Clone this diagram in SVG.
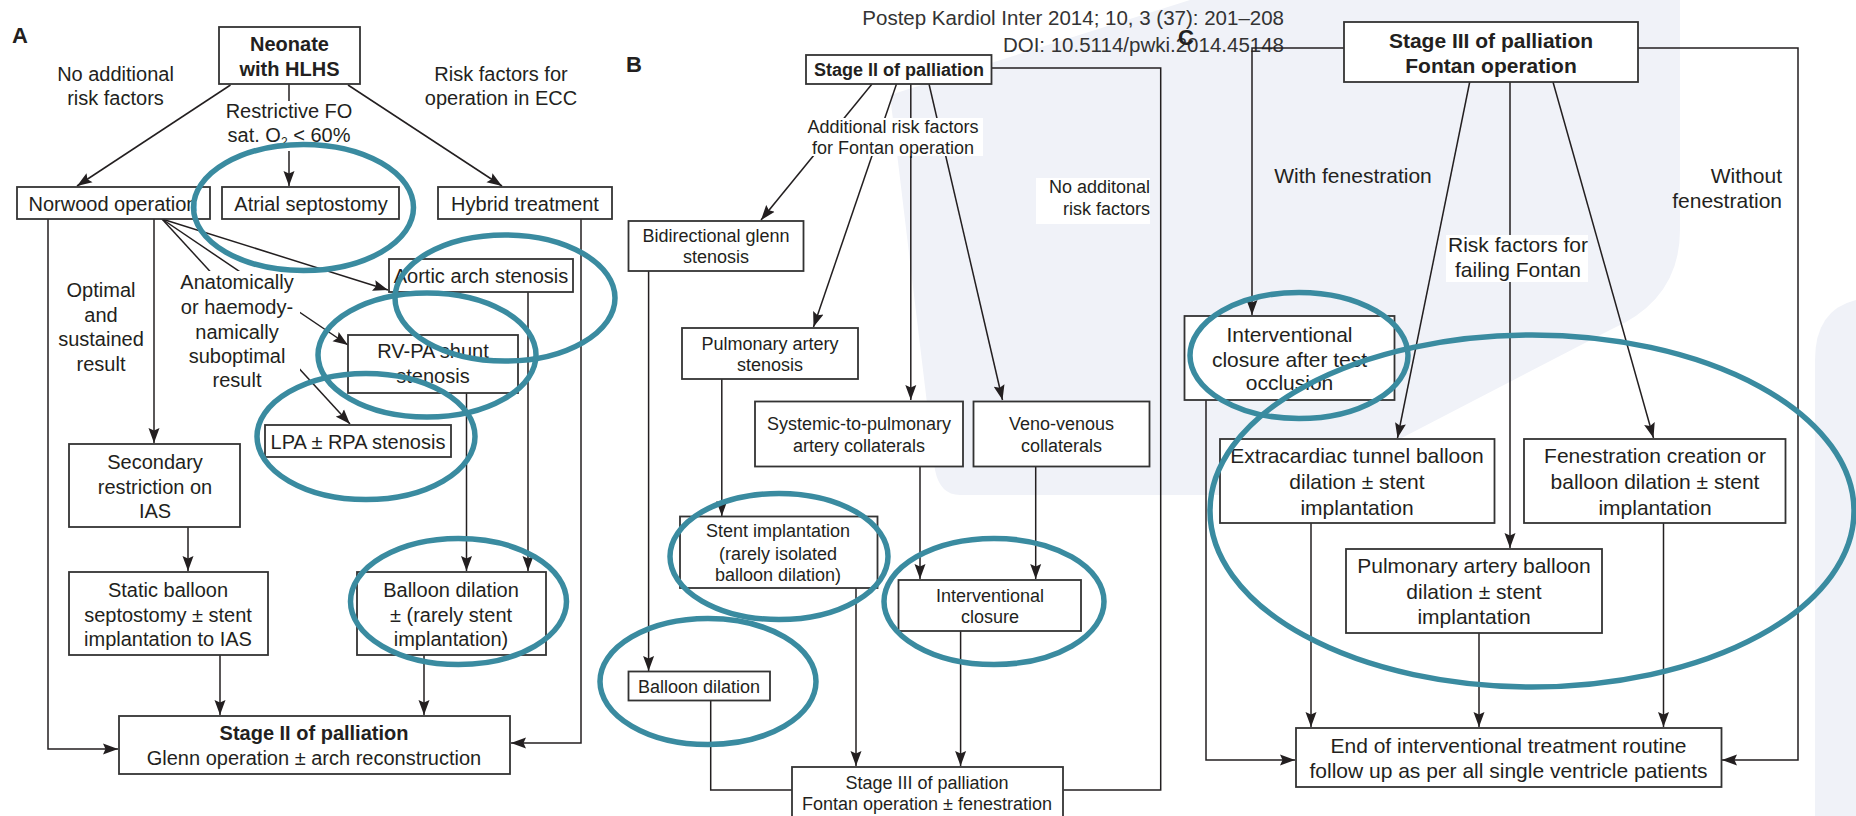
<svg xmlns="http://www.w3.org/2000/svg" width="1856" height="816" viewBox="0 0 1856 816">
<style>
text{font-family:"Liberation Sans",Arial,sans-serif;fill:#231f20;}
.a{font-size:20px;text-anchor:middle;}
.b{font-size:18px;text-anchor:middle;}
.c{font-size:21px;text-anchor:middle;}
.bold{font-weight:bold;}
.r{text-anchor:end;}
.box{fill:#fff;stroke:#333;stroke-width:1.8;}
.bg{fill:#fff;stroke:none;}
.ln{fill:none;stroke:#231f20;stroke-width:1.5;}
.ar{marker-end:url(#ah);}
.el{fill:none;stroke:#3a8ba0;stroke-width:5.5;}
.lbl{font-size:22px;font-weight:bold;}
.wm{fill:#f0f2f8;stroke:none;}
</style>
<defs>
<marker id="ah" markerWidth="16" markerHeight="12" refX="15" refY="6" orient="auto" markerUnits="userSpaceOnUse">
<path d="M0,0.5 L15,6 L0,11.5 L2.5,6 z" fill="#231f20"/>
</marker>
</defs>
<rect width="1856" height="816" fill="#fff"/>

<!-- faint watermark -->
<g id="watermark">
<path class="wm" d="M890,95 L1190,0 L1680,0 L1680,230 Q1680,300 1610,330 L1340,470 Q1300,495 1250,495 L960,495 Q940,495 935,470 Z"/>
<path class="wm" d="M1856,300 L1856,816 L1815,816 L1815,360 Q1815,310 1856,300 Z"/>
</g>

<!-- header -->
<g id="header">
<text x="1284" y="25" class="r" style="font-size:20.5px;fill:#333">Postep Kardiol Inter 2014; 10, 3 (37): 201–208</text>
<text x="1284" y="52" class="r" style="font-size:20.5px;fill:#333">DOI: 10.5114/pwki.2014.45148</text>
</g>
<text x="12" y="43" class="lbl">A</text>
<text x="626" y="72" class="lbl">B</text>
<text x="1178" y="45" class="lbl">C</text>

<!-- connectors -->
<g id="connectors">
<!-- A -->
<line class="ln ar" x1="230.5" y1="85" x2="77" y2="186"/>
<line class="ln ar" x1="289" y1="84" x2="289" y2="186"/>
<line class="ln ar" x1="348" y1="85" x2="502" y2="186"/>
<polyline class="ln ar" points="48,219 48,749 118,749"/>
<line class="ln ar" x1="154" y1="219" x2="154" y2="443"/>
<line class="ln ar" x1="162" y1="219" x2="388" y2="290"/>
<line class="ln ar" x1="162" y1="219" x2="348" y2="345"/>
<line class="ln ar" x1="162" y1="219" x2="350" y2="424"/>
<line class="ln ar" x1="528" y1="292" x2="528" y2="571"/>
<line class="ln ar" x1="466.5" y1="393" x2="466.5" y2="571"/>
<polyline class="ln ar" points="581,219 581,743 511,743"/>
<line class="ln ar" x1="188" y1="527" x2="188" y2="571"/>
<line class="ln ar" x1="220" y1="655" x2="220" y2="715"/>
<line class="ln ar" x1="424" y1="655" x2="424" y2="715"/>
<!-- B -->
<line class="ln ar" x1="872" y1="84" x2="761" y2="220"/>
<line class="ln ar" x1="896.5" y1="84" x2="813.5" y2="327"/>
<line class="ln ar" x1="910.8" y1="84" x2="910.8" y2="400"/>
<line class="ln ar" x1="929" y1="84" x2="1002.5" y2="400"/>
<polyline class="ln" points="991.5,68 1160.7,68 1160.7,790 1063.5,790"/>
<line class="ln ar" x1="648.6" y1="271" x2="648.6" y2="671"/>
<line class="ln ar" x1="721.8" y1="379" x2="721.8" y2="516"/>
<line class="ln ar" x1="920" y1="466.5" x2="920" y2="579"/>
<line class="ln ar" x1="1035.7" y1="466.5" x2="1035.7" y2="579"/>
<line class="ln ar" x1="856" y1="588" x2="856" y2="766"/>
<line class="ln ar" x1="960.6" y1="631" x2="960.6" y2="766"/>
<polyline class="ln" points="710.7,700.5 710.7,790 792,790"/>
<!-- C -->
<polyline class="ln ar" points="1344,48 1252,48 1252,315"/>
<polyline class="ln ar" points="1638,48 1798,48 1798,760 1722,760"/>
<line class="ln ar" x1="1469.7" y1="82" x2="1397.5" y2="438"/>
<line class="ln ar" x1="1510" y1="82" x2="1510" y2="548"/>
<line class="ln ar" x1="1553" y1="82" x2="1653.5" y2="438"/>
<polyline class="ln ar" points="1206,400 1206,760 1295,760"/>
<line class="ln ar" x1="1311" y1="523" x2="1311" y2="727"/>
<line class="ln ar" x1="1479" y1="633" x2="1479" y2="727"/>
<line class="ln ar" x1="1663.5" y1="523" x2="1663.5" y2="727"/>
</g>

<!-- edge labels -->
<g id="labels">
<text x="115.5" y="81" class="a">No additional</text>
<text x="115.5" y="105" class="a">risk factors</text>
<text x="501" y="81" class="a">Risk factors for</text>
<text x="501" y="105" class="a">operation in ECC</text>
<rect class="bg" x="225" y="101" width="127" height="50"/>
<text x="289" y="118" class="a">Restrictive FO</text>
<text x="289" y="142" class="a">sat. O<tspan style="font-size:12px" dy="4">2</tspan><tspan dy="-4"> &lt; 60%</tspan></text>
<text x="101" y="297" class="a">Optimal</text>
<text x="101" y="322" class="a">and</text>
<text x="101" y="346" class="a">sustained</text>
<text x="101" y="371" class="a">result</text>
<rect class="bg" x="176" y="271" width="124" height="122"/>
<text x="237" y="289" class="a">Anatomically</text>
<text x="237" y="314" class="a">or haemody-</text>
<text x="237" y="339" class="a">namically</text>
<text x="237" y="363" class="a">suboptimal</text>
<text x="237" y="387" class="a">result</text>

<rect class="bg" x="805" y="118" width="178" height="38"/>
<text x="893" y="133" class="b">Additional risk factors</text>
<text x="893" y="154" class="b">for Fontan operation</text>
<rect class="bg" x="1036" y="178" width="114" height="46"/>
<text x="1150" y="193" class="b r">No additonal</text>
<text x="1150" y="215" class="b r">risk factors</text>

<text x="1353" y="183" class="c">With fenestration</text>
<text x="1782" y="183" class="c r">Without</text>
<text x="1782" y="208" class="c r">fenestration</text>
<rect class="bg" x="1446" y="235" width="142" height="47"/>
<text x="1518" y="252" class="c">Risk factors for</text>
<text x="1518" y="277" class="c">failing Fontan</text>
</g>

<!-- Panel A nodes -->
<g id="neonate"><rect class="box" x="219" y="27" width="141" height="57"/><text x="289.5" y="51" class="a bold">Neonate</text><text x="289.5" y="76" class="a bold">with HLHS</text></g>
<g id="norwood"><rect class="box" x="17" y="187" width="193" height="32"/><text x="113" y="211" class="a">Norwood operation</text></g>
<g id="atrial"><rect class="box" x="222" y="187" width="177" height="32"/><text x="311" y="211" class="a">Atrial septostomy</text></g>
<g id="hybrid"><rect class="box" x="438" y="187" width="174" height="32"/><text x="525" y="211" class="a">Hybrid treatment</text></g>
<g id="aortic"><rect class="box" x="389" y="259" width="184" height="33"/><text x="481" y="283" class="a">Aortic arch stenosis</text></g>
<g id="rvpa"><rect class="box" x="348" y="335" width="170" height="58"/><text x="433" y="358" class="a">RV-PA shunt</text><text x="433" y="383" class="a">stenosis</text></g>
<g id="lpa"><rect class="box" x="265" y="425" width="186" height="32"/><text x="358" y="449" class="a">LPA ± RPA stenosis</text></g>
<g id="secondary"><rect class="box" x="69" y="444" width="171" height="83"/><text x="155" y="469" class="a">Secondary</text><text x="155" y="494" class="a">restriction on</text><text x="155" y="518" class="a">IAS</text></g>
<g id="static"><rect class="box" x="69" y="572" width="199" height="83"/><text x="168" y="597" class="a">Static balloon</text><text x="168" y="622" class="a">septostomy ± stent</text><text x="168" y="646" class="a">implantation to IAS</text></g>
<g id="balloonA"><rect class="box" x="357" y="572" width="189" height="83"/><text x="451" y="597" class="a">Balloon dilation</text><text x="451" y="622" class="a">± (rarely stent</text><text x="451" y="646" class="a">implantation)</text></g>
<g id="stage2A"><rect class="box" x="119" y="716" width="391" height="58"/><text x="314" y="740" class="a bold">Stage II of palliation</text><text x="314" y="765" class="a">Glenn operation ± arch reconstruction</text></g>

<!-- Panel B nodes -->
<g id="stage2B"><rect class="box" x="806" y="55" width="185.5" height="29"/><text x="899" y="76" class="b bold">Stage II of palliation</text></g>
<g id="bidir"><rect class="box" x="628.5" y="221" width="175" height="50"/><text x="716" y="242" class="b">Bidirectional glenn</text><text x="716" y="263" class="b">stenosis</text></g>
<g id="pastenosis"><rect class="box" x="682" y="328" width="176" height="51"/><text x="770" y="350" class="b">Pulmonary artery</text><text x="770" y="371" class="b">stenosis</text></g>
<g id="systemic"><rect class="box" x="755" y="401.5" width="208" height="65"/><text x="859" y="430" class="b">Systemic-to-pulmonary</text><text x="859" y="452" class="b">artery collaterals</text></g>
<g id="veno"><rect class="box" x="973.5" y="401.5" width="176" height="65"/><text x="1061.5" y="430" class="b">Veno-venous</text><text x="1061.5" y="452" class="b">collaterals</text></g>
<g id="stent"><rect class="box" x="680" y="516.5" width="197.5" height="71.5"/><text x="778" y="537" class="b">Stent implantation</text><text x="778" y="560" class="b">(rarely isolated</text><text x="778" y="581" class="b">balloon dilation)</text></g>
<g id="closureB"><rect class="box" x="898.5" y="580" width="182.5" height="51"/><text x="990" y="602" class="b">Interventional</text><text x="990" y="623" class="b">closure</text></g>
<g id="balloonB"><rect class="box" x="628.5" y="671.5" width="141.5" height="29"/><text x="699" y="693" class="b">Balloon dilation</text></g>
<g id="stage3B"><rect class="box" x="792" y="767" width="271" height="60"/><text x="927" y="789" class="b">Stage III of palliation</text><text x="927" y="810" class="b">Fontan operation ± fenestration</text></g>

<!-- Panel C nodes -->
<g id="stage3C"><rect class="box" x="1344" y="22" width="294" height="60"/><text x="1491" y="48" class="c bold">Stage III of palliation</text><text x="1491" y="73" class="c bold">Fontan operation</text></g>
<g id="closureC"><rect class="box" x="1184.5" y="316" width="210" height="84"/><text x="1289.5" y="342" class="c">Interventional</text><text x="1289.5" y="367" class="c">closure after test</text><text x="1289.5" y="390" class="c">occlusion</text></g>
<g id="extracardiac"><rect class="box" x="1220" y="439" width="274.5" height="84"/><text x="1357" y="463" class="c">Extracardiac tunnel balloon</text><text x="1357" y="489" class="c">dilation ± stent</text><text x="1357" y="515" class="c">implantation</text></g>
<g id="fenestration"><rect class="box" x="1524" y="439" width="261.5" height="84"/><text x="1655" y="463" class="c">Fenestration creation or</text><text x="1655" y="489" class="c">balloon dilation ± stent</text><text x="1655" y="515" class="c">implantation</text></g>
<g id="paballoon"><rect class="box" x="1346" y="549" width="256" height="84"/><text x="1474" y="573" class="c">Pulmonary artery balloon</text><text x="1474" y="599" class="c">dilation ± stent</text><text x="1474" y="624" class="c">implantation</text></g>
<g id="end"><rect class="box" x="1296" y="728" width="425.5" height="59"/><text x="1508.5" y="753" class="c">End of interventional treatment routine</text><text x="1508.5" y="778" class="c">follow up as per all single ventricle patients</text></g>

<!-- highlight ellipses -->
<g id="highlights">
<ellipse class="el" cx="303.5" cy="207.5" rx="110" ry="63"/>
<ellipse class="el" cx="505" cy="298" rx="110" ry="63"/>
<ellipse class="el" cx="427" cy="355" rx="109" ry="62"/>
<ellipse class="el" cx="366" cy="436.5" rx="109" ry="63"/>
<ellipse class="el" cx="458.5" cy="601.5" rx="108" ry="63"/>
<ellipse class="el" cx="779" cy="556.5" rx="109" ry="63"/>
<ellipse class="el" cx="994" cy="601.5" rx="110" ry="63"/>
<ellipse class="el" cx="708" cy="681.5" rx="108" ry="63"/>
<ellipse class="el" cx="1299" cy="355.5" rx="109" ry="63"/>
<ellipse class="el" cx="1532" cy="511" rx="322" ry="176"/>
</g>
</svg>
